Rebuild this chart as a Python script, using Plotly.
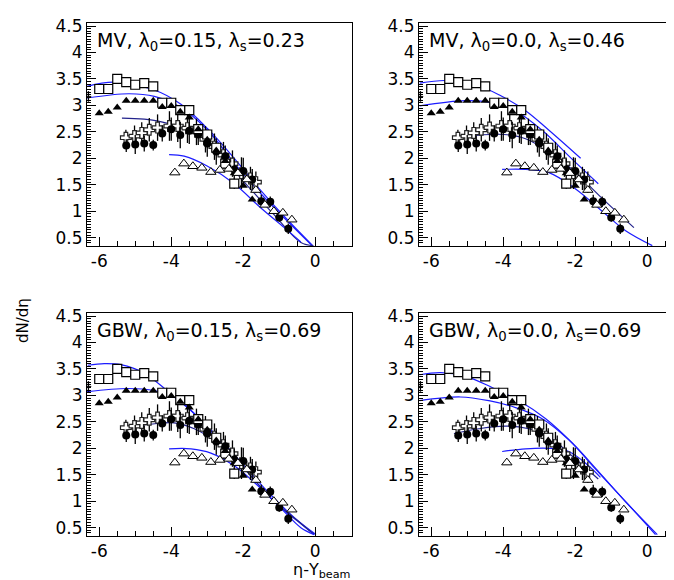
import plotly.graph_objects as go

# ---------------- data (same measurements in every panel) ----------------
sq_x = [-6.0, -5.75, -5.5, -5.25, -5.0, -4.75, -4.5, -4.25, -4.0, -3.75, -3.5, -3.25, -3.0, -2.75, -2.5, -2.25]
sq_y = [3.31, 3.31, 3.50, 3.44, 3.39, 3.42, 3.36, 3.05, 3.05, 2.91, 2.91, 2.55, 2.45, 2.20, 1.90, 1.52]
sq_err = [0, 0, 0, 0, 0, 0, 0, 0, 0, 0, 0, 0.08, 0.08, 0.1, 0.1, 0.1]

tri_x = [-6.0, -5.75, -5.5, -5.25, -5.0, -4.75, -4.5, -4.25, -4.0, -3.75, -3.5, -3.25, -3.0, -2.75, -2.5, -2.25, -2.0, -1.75]
tri_y = [2.85, 2.88, 2.96, 3.09, 3.09, 3.09, 3.09, 2.97, 2.99, 2.88, 2.77, 2.55, 2.35, 2.15, 1.95, 1.72, 1.48, 1.22]

otri_x = [-3.9, -3.65, -3.4, -3.15, -2.9, -2.65, -2.4, -2.15, -1.9, -1.65, -1.4, -1.15, -0.9, -0.65]
otri_y = [1.73, 1.90, 1.85, 1.82, 1.74, 1.78, 1.80, 1.72, 1.60, 1.40, 1.12, 1.00, 0.97, 0.84]

circ_x = [-5.25, -5.0, -4.75, -4.5, -4.25, -4.0, -3.75, -3.5, -3.25, -3.0, -2.75, -2.5, -2.25, -2.0, -1.75, -1.5, -1.25, -1.0, -0.75]
circ_y = [2.24, 2.26, 2.28, 2.25, 2.47, 2.55, 2.44, 2.52, 2.45, 2.28, 2.13, 2.04, 1.79, 1.76, 1.60, 1.19, 1.18, 0.88, 0.67]
circ_err = [0.12, 0.18, 0.15, 0.10, 0.15, 0.22, 0.25, 0.25, 0.20, 0.25, 0.25, 0.20, 0.20, 0.25, 0.20, 0.12, 0.10, 0.08, 0.10]

cross_x = [-5.26, -5.02, -4.82, -4.61, -4.38, -4.05, -3.82, -3.55, -3.3, -3.05, -2.8, -2.55, -2.3, -2.05, -1.8, -1.65]
cross_y = [2.39, 2.42, 2.48, 2.54, 2.58, 2.61, 2.61, 2.57, 2.50, 2.36, 2.22, 2.06, 1.90, 1.72, 1.62, 1.55]
cross_err = [0.15, 0.20, 0.20, 0.22, 0.25, 0.28, 0.30, 0.28, 0.25, 0.25, 0.25, 0.25, 0.25, 0.30, 0.22, 0.20]

edge_x = [-6.3]
edge_y = [3.17]
edge_err = [0.1]

# ---------------- model curves ----------------
# panel 1: MV, l0=0.15, ls=0.23
p1_a_x = [-6.34, -5.58, -4.47, -3.73, -2.99, -2.25, -1.51, -0.86, -0.07]
p1_a_y = [3.36, 3.44, 3.29, 3.02, 2.56, 2.00, 1.39, 0.90, 0.35]
p1_b_x = [-6.34, -5.17, -4.47, -3.73, -2.99, -2.25, -1.51, -0.86, -0.12]
p1_b_y = [3.14, 3.22, 3.17, 2.96, 2.53, 1.91, 1.33, 0.87, 0.37]
p1_c_x = [-5.37, -4.75, -4.10, -3.36, -2.62, -1.88, -1.14, -0.40, -0.05]
p1_c_y = [2.76, 2.74, 2.66, 2.47, 2.04, 1.48, 0.93, 0.41, 0.35]
p1_d_x = [-4.06, -3.64, -2.99, -2.25, -1.51, -0.86, -0.40]
p1_d_y = [2.07, 2.04, 1.85, 1.52, 1.06, 0.69, 0.42]

# panel 2: MV, l0=0.0, ls=0.46
p2_a_x = [-6.32, -5.60, -4.77, -4.12, -3.38, -2.73, -1.85]
p2_a_y = [3.42, 3.47, 3.39, 3.20, 2.90, 2.53, 2.00]
p2_b_x = [-6.32, -5.05, -4.31, -3.66, -2.92, -2.08, -1.36]
p2_b_y = [2.99, 3.09, 3.05, 2.90, 2.53, 1.98, 1.52]
p2_c_x = [-5.37, -4.68, -3.98, -3.38, -2.82, -2.08, -1.34, -0.37]
p2_c_y = [2.40, 2.44, 2.45, 2.37, 2.16, 1.79, 1.30, 0.69]
p2_d_x = [-4.03, -3.38, -2.73, -1.99, -1.25, -0.60, 0.14]
p2_d_y = [1.79, 1.79, 1.73, 1.42, 1.00, 0.63, 0.35]

# panel 3: GBW, l0=0.15, ls=0.69
p3_a_x = [-6.32, -5.86, -5.40, -4.75, -4.10, -3.45, -2.71, -1.97, -1.32, -0.58, 0.02]
p3_a_y = [3.57, 3.60, 3.58, 3.42, 3.08, 2.71, 2.22, 1.67, 1.18, 0.69, 0.37]
p3_b_x = [-6.34, -5.21, -4.47, -3.82, -3.18, -2.53, -1.88, -1.14, -0.50, -0.03]
p3_b_y = [3.07, 3.13, 3.09, 2.93, 2.53, 2.04, 1.55, 0.99, 0.63, 0.37]
p3_c_x = [-5.37, -4.66, -3.92, -3.36, -2.71, -1.97, -1.23, -0.49, -0.03]
p3_c_y = [2.40, 2.45, 2.48, 2.37, 2.10, 1.61, 1.06, 0.63, 0.37]
p3_d_x = [-4.06, -3.45, -2.90, -2.25, -1.70, -0.96, -0.40, -0.03]
p3_d_y = [1.99, 1.99, 1.91, 1.67, 1.36, 0.87, 0.50, 0.37]

# panel 4: GBW, l0=0.0, ls=0.69
p4_a_x = [-6.32, -5.74, -5.05, -4.31, -3.56, -2.82, -2.08, -1.34, -0.60, 0.28]
p4_a_y = [3.39, 3.43, 3.36, 3.15, 2.90, 2.56, 2.10, 1.55, 0.99, 0.37]
p4_b_x = [-6.32, -5.19, -4.40, -3.66, -2.92, -2.18, -1.44, -0.69, 0.23]
p4_b_y = [2.90, 2.97, 2.90, 2.77, 2.56, 2.16, 1.61, 1.06, 0.37]
p4_c_x = [-5.37, -4.68, -3.94, -3.29, -2.73, -2.08, -1.36]
p4_c_y = [2.28, 2.37, 2.42, 2.37, 2.22, 1.85, 1.42]
p4_d_x = [-4.03, -3.38, -2.73, -2.18, -1.63, -1.30]
p4_d_y = [1.94, 1.99, 2.00, 1.94, 1.67, 1.45]

panel_labels = [
    "MV, λ<sub>0</sub>=0.15, λ<sub>s</sub>=0.23",
    "MV, λ<sub>0</sub>=0.0, λ<sub>s</sub>=0.46",
    "GBW, λ<sub>0</sub>=0.15, λ<sub>s</sub>=0.69",
    "GBW, λ<sub>0</sub>=0.0, λ<sub>s</sub>=0.69",
]

x_tickvals = [-6, -4, -2, 0]
x_ticktext = ["-6", "-4", "-2", "0"]
y_tickvals = [0.5, 1.0, 1.5, 2.0, 2.5, 3.0, 3.5, 4.0, 4.5]
y_ticktext = ["0.5", "1", "1.5", "2", "2.5", "3", "3.5", "4", "4.5"]

x_title = "η-Y<sub>beam</sub>"
y_title = "dN/dη"

# ---------------- figure ----------------
FONT = "DejaVu Sans"
BLUE = "#1c1cff"
NAVY = "#23238c"

curves = [
    [(p1_a_x, p1_a_y, BLUE), (p1_b_x, p1_b_y, BLUE), (p1_c_x, p1_c_y, NAVY), (p1_d_x, p1_d_y, BLUE)],
    [(p2_a_x, p2_a_y, BLUE), (p2_b_x, p2_b_y, BLUE), (p2_c_x, p2_c_y, NAVY), (p2_d_x, p2_d_y, BLUE)],
    [(p3_a_x, p3_a_y, BLUE), (p3_b_x, p3_b_y, BLUE), (p3_c_x, p3_c_y, NAVY), (p3_d_x, p3_d_y, BLUE)],
    [(p4_a_x, p4_a_y, BLUE), (p4_b_x, p4_b_y, BLUE), (p4_c_x, p4_c_y, NAVY), (p4_d_x, p4_d_y, BLUE)],
]

fig = go.Figure()

W, H = 674, 580
ML, MR, MT, MB = 79, 0, 15, 52
pw = W - ML - MR
ph = H - MT - MB


def clamp(v):
    return min(1.0, max(0.0, v))


def px_x(p):
    return (p - ML) / pw


def px_y(p):
    return (H - MB - p) / ph


def dom(a, b):
    return [clamp(a), clamp(b)]


panels = [
    dict(xd=dom(px_x(79), px_x(344)), yd=dom(px_y(238), px_y(15)), xr=[-6.34, 1.02]),
    dict(xd=dom(px_x(411), 1.0), yd=dom(px_y(238), px_y(15)), xr=[-6.34, -6.34 + (674 - 411) / 36.0]),
    dict(xd=dom(px_x(79), px_x(344)), yd=dom(px_y(528), px_y(305)), xr=[-6.34, 1.02]),
    dict(xd=dom(px_x(411), 1.0), yd=dom(px_y(528), px_y(305)), xr=[-6.34, -6.34 + (674 - 411) / 36.0]),
]

err_style = dict(type="data", visible=True, color="black", thickness=1.3, width=0)

for i, pnl in enumerate(panels):
    n = "" if i == 0 else str(i + 1)
    xa, ya = "x" + n, "y" + n
    for cx, cy, col in curves[i]:
        fig.add_trace(go.Scatter(x=cx, y=cy, mode="lines", line=dict(color=col, width=1.2, shape="spline", smoothing=1.0),
                                 xaxis=xa, yaxis=ya, showlegend=False, hoverinfo="skip"))
    fig.add_trace(go.Scatter(x=cross_x, y=cross_y, mode="markers",
                             error_y=dict(array=cross_err, **err_style),
                             marker=dict(symbol="cross", size=9, color="white", line=dict(color="#222222", width=1.2)),
                             xaxis=xa, yaxis=ya, showlegend=False))
    fig.add_trace(go.Scatter(x=circ_x, y=circ_y, mode="markers",
                             error_y=dict(array=circ_err, **err_style),
                             marker=dict(symbol="circle", size=8, color="black"),
                             xaxis=xa, yaxis=ya, showlegend=False))
    fig.add_trace(go.Scatter(x=sq_x, y=sq_y, mode="markers",
                             error_y=dict(array=sq_err, **err_style),
                             marker=dict(symbol="square", size=9, color="white", line=dict(color="black", width=1.2)),
                             xaxis=xa, yaxis=ya, showlegend=False))
    fig.add_trace(go.Scatter(x=tri_x, y=tri_y, mode="markers",
                             marker=dict(symbol="triangle-up", size=8, color="black"),
                             xaxis=xa, yaxis=ya, showlegend=False))
    fig.add_trace(go.Scatter(x=otri_x, y=otri_y, mode="markers",
                             marker=dict(symbol="triangle-up", size=9, color="white", line=dict(color="black", width=1)),
                             xaxis=xa, yaxis=ya, showlegend=False))
    fig.add_trace(go.Scatter(x=edge_x, y=edge_y, mode="markers",
                             error_y=dict(array=edge_err, **err_style),
                             marker=dict(symbol="line-ew-open", size=4, color="black", line=dict(color="black", width=1)),
                             xaxis=xa, yaxis=ya, showlegend=False))

    xkey = "xaxis" + n
    ykey = "yaxis" + n
    fig.layout[xkey] = dict(
        domain=pnl["xd"], range=pnl["xr"], anchor=ya,
        tickmode="array", tickvals=x_tickvals, ticktext=x_ticktext,
        ticks="inside", ticklen=9, tickcolor="black", tickwidth=1,
        minor=dict(tickmode="linear", tick0=0, dtick=0.5, ticks="inside", ticklen=5, tickcolor="black", tickwidth=1),
        showline=True, linecolor="black", linewidth=1, mirror=True,
        showgrid=False, zeroline=False,
        tickfont=dict(family=FONT, size=17, color="black"),
    )
    fig.layout[ykey] = dict(
        domain=pnl["yd"], range=[0.343, 4.557], anchor=xa,
        tickmode="array", tickvals=y_tickvals, ticktext=y_ticktext,
        ticks="inside", ticklen=9, tickcolor="black", tickwidth=1,
        minor=dict(tickmode="linear", tick0=0, dtick=0.05, ticks="inside", ticklen=4, tickcolor="black", tickwidth=1),
        showline=True, linecolor="black", linewidth=1, mirror=True,
        showgrid=False, zeroline=False,
        tickfont=dict(family=FONT, size=17, color="black"),
    )
    fig.add_annotation(text=panel_labels[i], xref=xa + " domain", yref=ya + " domain",
                       x=0.03, y=0.915, xanchor="left", yanchor="middle", showarrow=False,
                       font=dict(family=FONT, size=19, color="black"))

fig.add_annotation(text=y_title, xref="paper", yref="paper", x=px_x(15), y=px_y(313),
                   xanchor="center", yanchor="middle", textangle=-90, showarrow=False,
                   font=dict(family=FONT, size=15, color="black"))
fig.add_annotation(text=x_title, xref="paper", yref="paper", x=px_x(344), y=px_y(562),
                   xanchor="right", yanchor="middle", showarrow=False,
                   font=dict(family=FONT, size=16, color="black"))

fig.update_layout(width=W, height=H, margin=dict(l=ML, r=MR, t=MT, b=MB),
                  paper_bgcolor="white", plot_bgcolor="white", showlegend=False)

fig.write_html("out.html")
